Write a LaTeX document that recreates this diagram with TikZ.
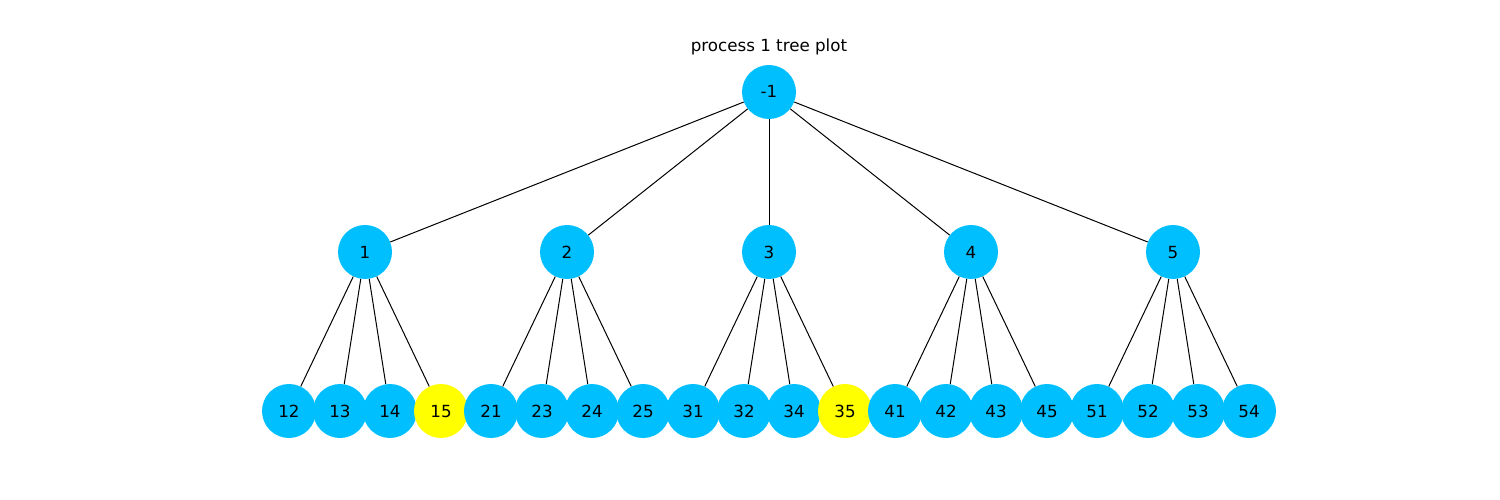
\documentclass[tikz,border=0pt]{standalone}
\usepackage{fontspec}
\setmainfont{DejaVu Sans}
\definecolor{skyblue}{RGB}{0,191,255}
\definecolor{hilite}{RGB}{255,255,0}
\begin{document}
\begin{tikzpicture}[x=1pt,y=-1pt,
  vertex/.style={circle,fill=skyblue,minimum size=54pt,inner sep=0pt,
    text height=12pt,text depth=0pt,font=\fontsize{16.7}{20}\selectfont},
  marked/.style={vertex,fill=hilite},
  edge/.style={draw=black,line width=1pt}]
\useasboundingbox (0,0) rectangle (1500,500);
\node[font=\fontsize{16.7}{20}\selectfont] (title) at (769,47) {process 1 tree plot};
\node[vertex] (r) at (769,92) {-1};
\foreach \n/\x in {1/365,2/567,3/769,4/971,5/1173}
  \node[vertex] (n\n) at (\x,252) {\n};
\foreach \n/\x/\s in {12/289/vertex,13/340/vertex,14/390/vertex,15/441/marked,
  21/491/vertex,23/542/vertex,24/592/vertex,25/643/vertex,
  31/693/vertex,32/744/vertex,34/794/vertex,35/845/marked,
  41/895/vertex,42/946/vertex,43/996/vertex,45/1047/vertex,
  51/1097/vertex,52/1148/vertex,53/1198/vertex,54/1249/vertex}
  \node[\s] (n\n) at (\x,411) {\n};
\foreach \p in {1,2,3,4,5}
  \draw[edge] (r) -- (n\p);
\foreach \p/\a/\b/\c/\d in {1/12/13/14/15,2/21/23/24/25,3/31/32/34/35,4/41/42/43/45,5/51/52/53/54}
  \foreach \k in {\a,\b,\c,\d}
    \draw[edge] (n\p) -- (n\k);
\end{tikzpicture}
\end{document}
